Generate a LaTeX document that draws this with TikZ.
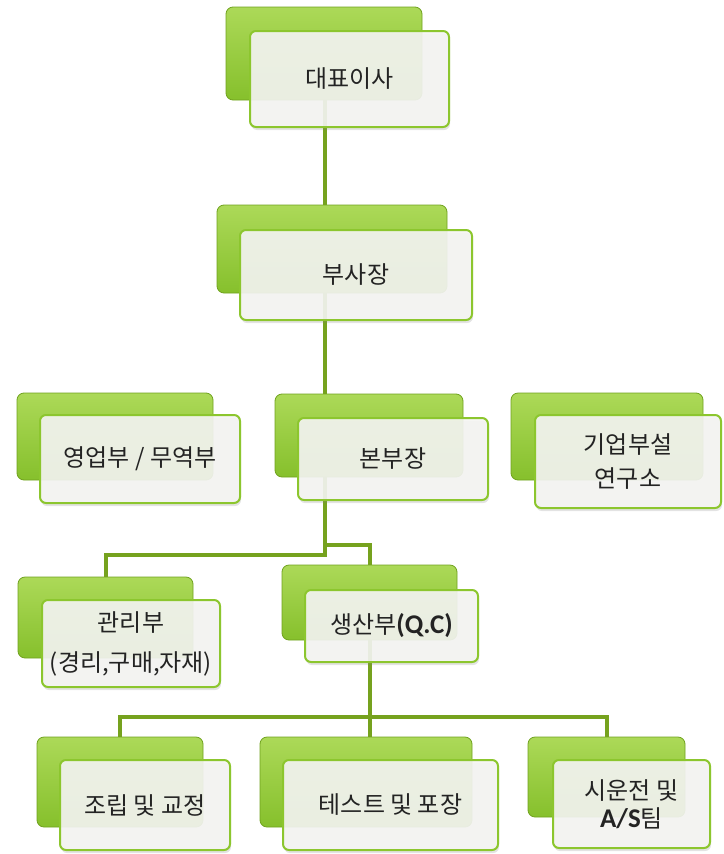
\documentclass[tikz,border=0pt]{standalone}
\usepackage{fontspec}
\setmainfont{Noto Sans CJK KR}
\newfontfamily\latinfont{Carlito}
\usetikzlibrary{shadows}

\definecolor{linkgreen}{RGB}{118,162,30}
\definecolor{backtop}{RGB}{172,217,88}
\definecolor{backmid}{RGB}{148,203,56}
\definecolor{backbot}{RGB}{134,192,44}
\definecolor{backedge}{RGB}{112,162,30}
\definecolor{frontfill}{RGB}{245,245,243}
\definecolor{frontedge}{RGB}{140,198,46}
\definecolor{textgray}{RGB}{35,35,35}

\begin{document}
\begin{tikzpicture}[x=1pt,y=-1pt,
    backbox/.style={rounded corners=7pt, draw=backedge, line width=0.8pt,
        top color=backtop, middle color=backmid, bottom color=backbot},
    frontbox/.style={rounded corners=6pt, draw=frontedge, line width=2pt,
        fill=frontfill, fill opacity=0.9, text opacity=1, align=center,
        drop shadow={shadow xshift=1pt, shadow yshift=-3pt, opacity=0.22},
        text=textgray, font=\fontsize{24}{30}\selectfont},
    link/.style={draw=linkgreen, line width=4pt}]
    \useasboundingbox (0,0) rectangle (723,854);

    % back boxes
    \node[backbox, minimum width=196, minimum height=93] (ceo-b)   at (324,53.5)   {};
    \node[backbox, minimum width=230, minimum height=88] (vp-b)    at (332,249)    {};
    \node[backbox, minimum width=196, minimum height=87] (sales-b) at (115,436.5)  {};
    \node[backbox, minimum width=188, minimum height=83] (hq-b)    at (369,435.5)  {};
    \node[backbox, minimum width=192, minimum height=87] (lab-b)   at (607,436.5)  {};
    \node[backbox, minimum width=175, minimum height=81] (admin-b) at (105.5,617.5){};
    \node[backbox, minimum width=175, minimum height=75] (prod-b)  at (369.5,602.5){};
    \node[backbox, minimum width=166, minimum height=90] (asm-b)   at (120,782)    {};
    \node[backbox, minimum width=212, minimum height=90] (test-b)  at (366,782)    {};
    \node[backbox, minimum width=157, minimum height=80] (svc-b)   at (606.5,777)  {};

    % connectors
    \coordinate (trunk) at (325,0);
    \coordinate (j1) at (0,555);
    \coordinate (j2) at (0,545);
    \coordinate (bus) at (0,717);
    \draw[link] (trunk |- ceo-b.south) -- (trunk |- vp-b.north);
    \draw[link] (trunk |- vp-b.south) -- (trunk |- hq-b.north);
    \draw[link] (trunk |- hq-b.south) -- (trunk |- j1) -| (admin-b.north);
    \draw[link] (trunk |- j2) -| (prod-b.north);
    \draw[link] (prod-b.south) -- (prod-b.south |- test-b.north);
    \draw[link] (asm-b.north) |- (prod-b.south |- bus) -| (svc-b.north);

    % front boxes
    \node[frontbox, minimum width=199, minimum height=96] (ceo)   at (349.5,79)   {대표이사};
    \node[frontbox, minimum width=232, minimum height=90] (vp)    at (356,275)    {부사장};
    \node[frontbox, minimum width=200, minimum height=88] (sales) at (140,459)    {영업부 / 무역부};
    \node[frontbox, minimum width=190, minimum height=82] (hq)    at (393,459)    {본부장};
    \node[frontbox, minimum width=186, minimum height=93] (lab)   at (628,461.5)  {기업부설\\[4pt]연구소};
    \node[frontbox, minimum width=178, minimum height=87] (admin) at (131,643.5)  {관리부\\[10pt](경리,구매,자재)};
    \node[frontbox, minimum width=173, minimum height=72] (prod)  at (391.5,626)  {생산부{\latinfont\bfseries\fontsize{27}{30}\selectfont (Q.C)}};
    \node[frontbox, minimum width=170, minimum height=90] (asm)   at (145,805)    {조립 및 교정};
    \node[frontbox, minimum width=215, minimum height=90] (test)  at (390.5,805)  {테스트 및 포장};
    \node[frontbox, minimum width=157, minimum height=88] (svc)   at (631.5,804)  {시운전 및\\[-2pt]{\latinfont\bfseries\fontsize{27}{30}\selectfont A/S}팀};
\end{tikzpicture}
\end{document}
